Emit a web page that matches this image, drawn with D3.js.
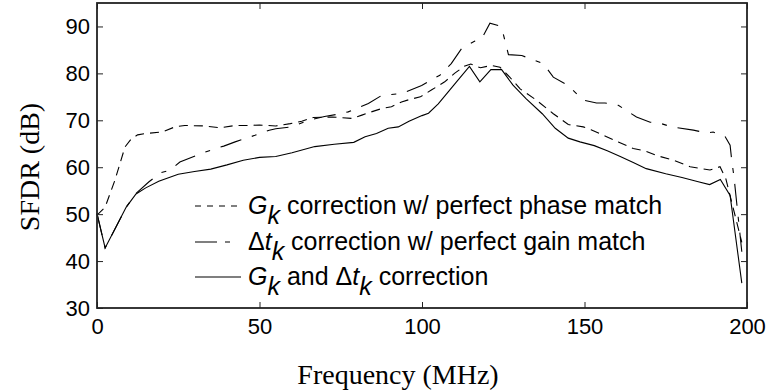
<!DOCTYPE html>
<html>
<head>
<meta charset="utf-8">
<script src="https://cdn.jsdelivr.net/npm/d3@7"></script>
<style>
  html, body { margin: 0; padding: 0; background: #fff; }
  svg { display: block; }
</style>
</head>
<body>
<svg id="chart" width="769" height="392"></svg>
<script>
// ---- data ----
const xTicks = [0, 50, 100, 150, 200];
const yTicks = [30, 40, 50, 60, 70, 80, 90];

// G_k correction w/ perfect phase match (short dashes)
const gkFreq = [0, 2.5, 5.5, 8.6, 10.5, 12.5, 15, 20, 24, 27, 33, 38, 42.5, 46, 50, 55, 59.5, 63, 66.5, 72.5, 78.5, 81.5, 83.5, 87.6, 90.6, 93.7, 96, 99.5, 103, 107, 110, 113, 115, 118, 121.4, 124, 127, 130.2, 135, 140.4, 145, 149.6, 152, 156.8, 160.4, 165, 168.6, 172.2, 177.3, 182.5, 188.6, 191.7, 193.5, 195.5, 198.4];
const gkSfdr = [49.8, 51.5, 57.2, 64.3, 66.0, 66.9, 67.2, 67.5, 68.6, 68.9, 68.8, 68.4, 68.9, 68.9, 69.0, 68.8, 69.3, 69.8, 70.6, 70.7, 70.4, 71.1, 71.6, 72.5, 72.9, 73.9, 74.4, 75.0, 76.5, 78.2, 80.0, 81.5, 82.0, 81.2, 81.7, 81.3, 79.2, 76.7, 74.4, 71.4, 69.1, 68.6, 68.0, 66.5, 65.4, 64.0, 63.5, 62.5, 61.5, 60.1, 59.4, 60.1, 57.5, 52.0, 44.0];

// Δt_k correction w/ perfect gain match (long-short dashes)
const dtFreq = [0, 2.5, 9, 12, 16, 19.5, 22.5, 25.5, 32, 36.5, 39, 42.5, 48.6, 53, 55, 60, 65, 70, 75, 77.3, 83.5, 87.6, 93.7, 99.9, 103.5, 105.5, 109, 112.2, 116.3, 118.4, 120.9, 124, 125, 126.6, 130.7, 137.3, 140.4, 145, 149.6, 153.7, 156.3, 160.4, 166, 170.2, 172.7, 176.8, 183.5, 187.6, 189.6, 193.2, 194.8, 195.3, 196, 198.4];
const dtSfdr = [50.1, 42.8, 51.5, 54.4, 56.9, 58.8, 59.4, 61.1, 62.9, 64.0, 64.5, 65.4, 66.8, 67.9, 68.2, 68.6, 70.0, 70.8, 71.4, 71.8, 73.6, 75.3, 75.7, 77.4, 78.9, 79.6, 82.1, 85.3, 86.9, 87.4, 90.7, 90.1, 88.4, 84.0, 83.8, 82.1, 79.2, 77.4, 74.3, 73.7, 73.7, 73.2, 70.7, 69.6, 69.5, 68.6, 67.9, 67.3, 67.5, 66.6, 64.7, 61.5, 57.9, 42.0];

// G_k and Δt_k correction (solid)
const bothFreq = [0, 2.5, 9, 12, 15, 19, 25, 30, 35, 40, 45, 50, 55, 60, 67, 73, 79, 82.5, 86, 89.6, 92.7, 96, 100, 102, 105, 108, 111, 114.6, 117.8, 121.2, 124.5, 128, 132, 137, 141, 145, 148.6, 153, 157, 161, 165, 169, 175, 180, 185, 188.5, 191.8, 194.8, 198.4];
const bothSfdr = [50.1, 42.8, 51.5, 54.3, 55.6, 57.0, 58.5, 59.1, 59.6, 60.5, 61.5, 62.1, 62.3, 63.1, 64.4, 64.9, 65.3, 66.5, 67.2, 68.3, 68.6, 69.8, 71.0, 71.5, 73.5, 76.0, 78.5, 81.5, 78.2, 80.8, 80.8, 77.5, 74.6, 71.4, 68.3, 66.2, 65.4, 64.6, 63.5, 62.3, 61.0, 59.7, 58.6, 57.8, 56.9, 56.3, 57.4, 54.0, 35.3];

const seriesNames = ["G|k| correction w/ perfect phase match", "Δt|k| correction w/ perfect gain match", "G|k| and Δt|k| correction"];

// ---- layout ----
const W = 769, H = 392;
const m = { left: 97, right: 22, top: 3, bottom: 84 };
const svg = d3.select("#chart");

const x = d3.scaleLinear().domain([0, 200]).range([m.left, W - m.right]);
const y = d3.scaleLinear().domain([30, 95]).range([H - m.bottom, m.top]);

const tickFont = "'Liberation Sans', Arial, sans-serif";
const serif = "'Liberation Serif', 'Times New Roman', serif";

// curves
const line = d3.line().x(d => x(d[0])).y(d => y(d[1]));
const series = [
  { f: gkFreq, v: gkSfdr, dash: "9,6" },
  { f: dtFreq, v: dtSfdr, dash: "22,11,5,11" },
  { f: bothFreq, v: bothSfdr, dash: null }
];
series.forEach(s => {
  const pts = s.f.map((f, i) => [f, s.v[i]]);
  svg.append("path")
    .attr("d", line(pts))
    .attr("fill", "none")
    .attr("stroke", "#000")
    .attr("stroke-width", 1.1)
    .attr("stroke-dasharray", s.dash);
});

// axes (ticks inward on all sides)
const tl = 6;
const gB = svg.append("g").attr("transform", `translate(0,${H - m.bottom})`)
  .call(d3.axisBottom(x).tickValues(xTicks).tickSizeInner(-tl).tickSizeOuter(0).tickPadding(10));
const gT = svg.append("g").attr("transform", `translate(0,${m.top})`)
  .call(d3.axisTop(x).tickValues(xTicks).tickSizeInner(-tl).tickSizeOuter(0).tickFormat(""));
const gL = svg.append("g").attr("transform", `translate(${m.left},0)`)
  .call(d3.axisLeft(y).tickValues(yTicks).tickSizeInner(-tl).tickSizeOuter(0).tickPadding(7));
const gR = svg.append("g").attr("transform", `translate(${W - m.right},0)`)
  .call(d3.axisRight(y).tickValues(yTicks).tickSizeInner(-tl).tickSizeOuter(0).tickFormat(""));
[gB, gT, gL, gR].forEach(g => {
  g.select(".domain").remove();
  g.selectAll(".tick line").attr("stroke", "#222").attr("stroke-width", 1);
  g.selectAll(".tick text").attr("fill", "#000").style("font-family", tickFont).style("font-size", "22px");
});
gB.selectAll(".tick text").attr("dy", "0.71em");

// frame
svg.append("rect")
  .attr("x", m.left).attr("y", m.top)
  .attr("width", W - m.left - m.right).attr("height", H - m.top - m.bottom)
  .attr("fill", "none").attr("stroke", "#222").attr("stroke-width", 1.8);

// axis titles
svg.append("text")
  .attr("x", 398).attr("y", 384)
  .attr("text-anchor", "middle")
  .style("font-family", serif).style("font-size", "28px")
  .text("Frequency (MHz)");
svg.append("text")
  .attr("transform", `translate(39,167) rotate(-90)`)
  .attr("text-anchor", "middle")
  .style("font-family", serif).style("font-size", "28px")
  .text("SFDR (dB)");

// legend
const legRows = [206, 242, 277];
const legDash = ["6,6", "22,8,5,20", null];
const lg = svg.append("g");
seriesNames.forEach((name, i) => {
  lg.append("line")
    .attr("x1", 195).attr("x2", 241)
    .attr("y1", legRows[i]).attr("y2", legRows[i])
    .attr("stroke", "#000").attr("stroke-width", 1.1)
    .attr("stroke-dasharray", legDash[i]);
  const t = lg.append("text")
    .attr("x", 248).attr("y", legRows[i] + 8)
    .style("font-family", tickFont).style("font-size", "25px");
  // "|k|" markers are italic subscripts; the letter before each is italic (G, t)
  const parts = name.split("|");
  parts.forEach((p, j) => {
    if (j % 2 === 1) {
      t.append("tspan").attr("dy", 10).style("font-style", "italic").text(p);
    } else {
      const dy = j === 0 ? 0 : -10;
      if (j < parts.length - 1) {
        t.append("tspan").attr("dy", dy).text(p.slice(0, -1));
        t.append("tspan").style("font-style", "italic").text(p.slice(-1));
      } else {
        t.append("tspan").attr("dy", dy).text(p);
      }
    }
  });
});
</script>
</body>
</html>
